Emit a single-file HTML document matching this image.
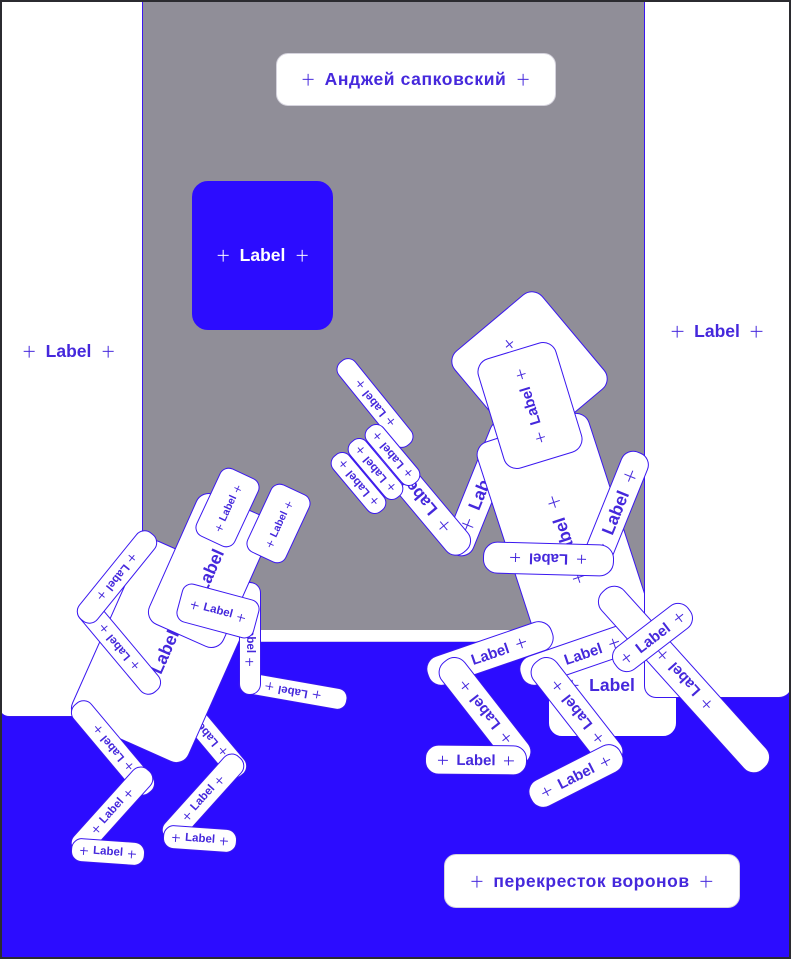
<!DOCTYPE html>
<html><head><meta charset="utf-8">
<style>
html,body{margin:0;padding:0;background:#2c0cff}
#s{position:relative;width:791px;height:959px;overflow:hidden;background:#2c0cff;font-family:"Liberation Sans","Noto Sans CJK SC",sans-serif;font-weight:700;color:#4528dc}
.n{position:absolute;box-sizing:border-box;background:#fff;border:1px solid #3a17f0;width:calc(var(--w)*1px);height:calc(var(--h)*1px);left:calc((var(--x) - var(--w)/2)*1px);top:calc((var(--y) - var(--h)/2)*1px);transform:rotate(calc(var(--r,0)*1deg));border-radius:var(--b,calc(var(--h)*.45px));font-size:calc(var(--f,17)*1px)}
.i{position:absolute;left:50%;top:50%;white-space:nowrap;display:flex;align-items:center;gap:calc((var(--f,17)*.95 - 5.7)*1px);line-height:1;transform:translate(-50%,-50%) rotate(calc((var(--t,var(--r,0)) - var(--r,0))*1deg)) translateY(.6px)}
.p{display:block;flex:none;width:.66em;height:.66em;background:linear-gradient(currentColor,currentColor) center/100% .085em no-repeat,linear-gradient(currentColor,currentColor) center/.085em 100% no-repeat}
.abs{position:absolute;box-sizing:border-box}
</style></head><body><div id="s">
<div class="abs" style="left:142px;top:0;width:503px;height:642px;background:#fff;border-bottom:1px solid #cfcaf0"></div>
<div class="abs" style="left:142px;top:0;width:503px;height:630px;background:#908e98"></div>
<div class="n" style="--x:71;--y:358;--w:143;--h:718;--b:0 0 9px 9px;--f:17.5;border-color:#3a17f0;border-left:0"><div class="i" style="margin-top:-7px;margin-left:-2px"><span class="p"></span>Label<span class="p"></span></div></div>

<div class="n" style="--x:415.5;--y:79;--w:280;--h:53;--b:12px;--f:17.5;border-color:#d5d3dd"><div class="i" style="letter-spacing:.6px"><span class="p"></span>Анджей сапковский<span class="p"></span></div></div>
<div class="n" style="--x:262.5;--y:255;--w:141;--h:149;--b:16px;--f:17.5;background:#2c0cff;color:#fff;border-color:#2c0cff"><div class="i"><span class="p"></span>Label<span class="p"></span></div></div>
<div class="n" style="--x:591.5;--y:881;--w:296;--h:54;--b:12px;--f:17.5;border-color:#d5d3dd"><div class="i" style="letter-spacing:.5px"><span class="p"></span>перекресток воронов<span class="p"></span></div></div>

<!-- right figure -->
<div class="n" style="--x:612;--y:685;--w:129;--h:104;--b:14px;--f:17.5;border-color:#2c0cff"><div class="i"><span class="p"></span>Label<span class="p"></span></div></div>
<div class="n" style="--x:482;--y:488;--w:144;--h:30;--r:-68;--f:17.5"><div class="i"><span class="p"></span>Label<span class="p"></span></div></div>
<div class="n" style="--x:564;--y:535;--w:118;--h:226;--r:-18;--t:-108;--b:14px;--f:17.5"><div class="i" style="margin-top:5px"><span class="p"></span>Label<span class="p"></span></div></div>
<div class="n" style="--x:529;--y:370;--w:115;--h:124;--r:-40;--t:-130;--b:14px;--f:15"><div class="i"><span class="p"></span>Label<span class="p"></span></div></div>
<div class="n" style="--x:529.5;--y:405;--w:82;--h:115;--r:-17;--t:-107;--b:14px;--f:15"><div class="i"><span class="p"></span>Label<span class="p"></span></div></div>

<div class="n" style="--x:717.5;--y:349;--w:147;--h:698;--b:0 0 12px 12px;--f:17.5;border-right:0"><div class="i" style="margin-top:-18px;margin-left:-1px"><span class="p"></span>Label<span class="p"></span></div></div>

<div class="n" style="--x:615;--y:512;--w:130;--h:29;--r:-68;--f:17.5"><div class="i"><span class="p"></span>Label<span class="p"></span></div></div>
<div class="n" style="--x:548;--y:559;--w:131;--h:32;--r:181.5;--f:15"><div class="i"><span class="p"></span>Label<span class="p"></span></div></div>

<div class="n" style="--x:419;--y:496;--w:144;--h:29;--r:230;--f:17"><div class="i"><span class="p"></span>Label<span class="p"></span></div></div>
<div class="n" style="--x:375;--y:403;--w:108;--h:22;--r:231;--f:11.5"><div class="i"><span class="p"></span>Label<span class="p"></span></div></div>
<div class="n" style="--x:392;--y:455;--w:73;--h:22;--r:230;--f:11.5"><div class="i"><span class="p"></span>Label<span class="p"></span></div></div>
<div class="n" style="--x:375;--y:469;--w:73;--h:22;--r:230;--f:11.5"><div class="i"><span class="p"></span>Label<span class="p"></span></div></div>
<div class="n" style="--x:358;--y:483;--w:73;--h:22;--r:230;--f:11.5"><div class="i"><span class="p"></span>Label<span class="p"></span></div></div>

<div class="n" style="--x:490;--y:653;--w:132;--h:31;--r:-19;--f:15"><div class="i"><span class="p"></span>Label<span class="p"></span></div></div>
<div class="n" style="--x:583;--y:653;--w:132;--h:31;--r:-19;--f:15"><div class="i"><span class="p"></span>Label<span class="p"></span></div></div>
<div class="n" style="--x:485;--y:712;--w:130;--h:30;--r:232;--f:15"><div class="i"><span class="p"></span>Label<span class="p"></span></div></div>
<div class="n" style="--x:476;--y:760;--w:102;--h:30;--r:0.5;--f:15"><div class="i"><span class="p"></span>Label<span class="p"></span></div></div>
<div class="n" style="--x:577;--y:712;--w:130;--h:30;--r:232;--f:15"><div class="i"><span class="p"></span>Label<span class="p"></span></div></div>
<div class="n" style="--x:576;--y:776;--w:102;--h:30;--r:-27;--f:15"><div class="i"><span class="p"></span>Label<span class="p"></span></div></div>
<div class="n" style="--x:684;--y:679;--w:240;--h:31;--r:228;--f:15"><div class="i"><span class="p"></span>Label<span class="p"></span></div></div>
<div class="n" style="--x:652;--y:637;--w:93;--h:29;--r:-37.5;--f:15"><div class="i"><span class="p"></span>Label<span class="p"></span></div></div>

<!-- left figure -->
<div class="n" style="--x:293;--y:691;--w:110;--h:22;--r:190;--f:11.5"><div class="i"><span class="p"></span>Label<span class="p"></span></div></div>
<div class="n" style="--x:207;--y:733;--w:110;--h:24;--r:230;--f:11.5"><div class="i"><span class="p"></span>Label<span class="p"></span></div></div>
<div class="n" style="--x:165;--y:651;--w:128;--h:197;--r:24;--t:-66;--b:14px;--f:17.5"><div class="i"><span class="p"></span>Label<span class="p"></span></div></div>
<div class="n" style="--x:250;--y:638;--w:22;--h:113;--t:90;--f:11.5"><div class="i"><span class="p"></span>Label<span class="p"></span></div></div>
<div class="n" style="--x:210;--y:570;--w:82;--h:143;--r:24;--t:-66;--b:14px;--f:17.5"><div class="i"><span class="p"></span>Label<span class="p"></span></div></div>
<div class="n" style="--x:227;--y:507;--w:43;--h:75;--r:25;--t:-65;--b:10px;--f:10.5"><div class="i"><span class="p"></span>Label<span class="p"></span></div></div>
<div class="n" style="--x:278.5;--y:523;--w:43;--h:75;--r:25;--t:-65;--b:10px;--f:10.5"><div class="i"><span class="p"></span>Label<span class="p"></span></div></div>
<div class="n" style="--x:218;--y:611;--w:80;--h:40;--r:15;--b:10px;--f:11.5"><div class="i"><span class="p"></span>Label<span class="p"></span></div></div>
<div class="n" style="--x:119;--y:647;--w:116;--h:24;--r:230;--f:11.5"><div class="i"><span class="p"></span>Label<span class="p"></span></div></div>
<div class="n" style="--x:117;--y:577;--w:112;--h:24;--r:129;--f:11.5"><div class="i"><span class="p"></span>Label<span class="p"></span></div></div>
<div class="n" style="--x:113;--y:748;--w:116;--h:24;--r:230;--f:11.5"><div class="i"><span class="p"></span>Label<span class="p"></span></div></div>
<div class="n" style="--x:112;--y:811;--w:110;--h:24;--r:-48;--f:11.5"><div class="i"><span class="p"></span>Label<span class="p"></span></div></div>
<div class="n" style="--x:108;--y:852;--w:74;--h:24;--r:4;--f:11.5"><div class="i"><span class="p"></span>Label<span class="p"></span></div></div>
<div class="n" style="--x:203;--y:798;--w:110;--h:24;--r:-48;--f:11.5"><div class="i"><span class="p"></span>Label<span class="p"></span></div></div>
<div class="n" style="--x:200;--y:839;--w:74;--h:24;--r:4;--f:11.5"><div class="i"><span class="p"></span>Label<span class="p"></span></div></div>

<div class="abs" style="left:0;top:0;width:791px;height:959px;border:2px solid #2b2b30;pointer-events:none"></div>
</div></body></html>
